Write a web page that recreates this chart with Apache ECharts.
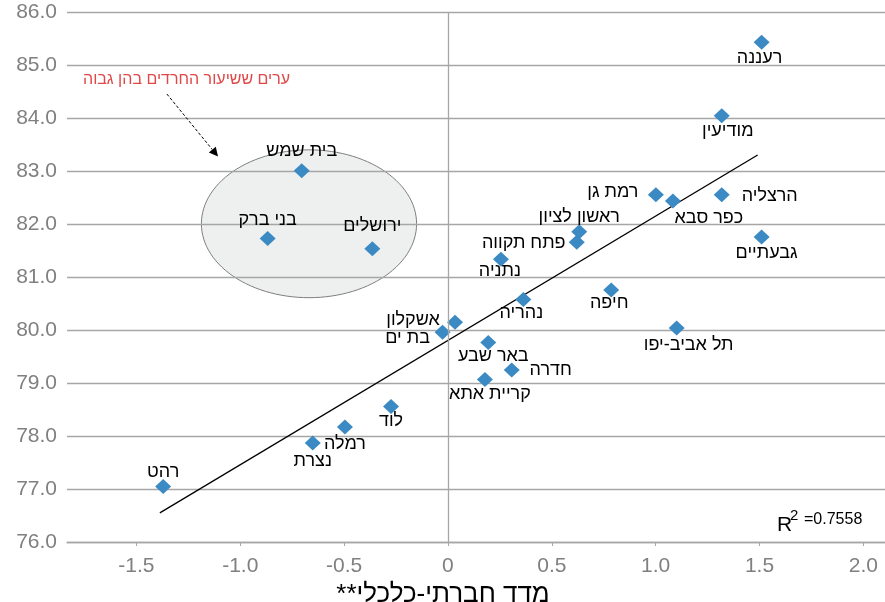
<!DOCTYPE html>
<html>
<head>
<meta charset="utf-8">
<script src="https://cdn.jsdelivr.net/npm/echarts@6/dist/echarts.min.js"></script>
<style>
html,body{margin:0;padding:0;background:#fff;}
#c{width:885px;height:602px;}
</style>
</head>
<body>
<div id="c"></div>
<script>
// ---- data ----
const cities = ["רעננה","מודיעין","בית שמש","רמת גן","כפר סבא","הרצליה","בני ברק","ראשון לציון","פתח תקווה","ירושלים","גבעתיים","נתניה","חיפה","נהריה","אשקלון","בת ים","תל אביב-יפו","באר שבע","חדרה","קריית אתא","לוד","רמלה","נצרת","רהט"];
const socioIndex = [1.510,1.318,-0.704,1.001,1.083,1.318,-0.868,0.632,0.620,-0.364,1.510,0.255,0.786,0.363,0.034,-0.026,1.101,0.194,0.307,0.178,-0.274,-0.496,-0.651,-1.371];
const values = [85.44,84.05,83.01,82.56,82.44,82.56,81.73,81.86,81.66,81.54,81.76,81.34,80.76,80.58,80.15,79.96,80.04,79.77,79.25,79.07,78.56,78.17,77.87,77.05];
const trendX = [-1.387, 1.491];
const trendY = [76.55, 83.31];
const xTicks = [-1.5,-1.0,-0.5,0,0.5,1.0,1.5,2.0];
const r2Text = "=0.7558";
const xTitle = "מדד חברתי-כלכלי**\u200F";
const noteText = "ערים ששיעור החרדים בהן גבוה";
// highlighted group ellipse (centre x, centre y, radius x, radius y) in data units
const groupEllipse = [-0.669, 82.01, 0.518, 1.396];
// annotation arrow (from x,y to x,y) in data units
const noteArrow = [-1.353, 84.46, -1.107, 83.28];

// ---- label placement (style) ----
const labelOffsets = {
 "רעננה":[-2,16],"מודיעין":[6,15],"בית שמש":[0,-20],"רמת גן":[-43,-3],"כפר סבא":[36,17],
 "הרצליה":[48,1],"בני ברק":[0,-19],"ראשון לציון":[0,-15],"פתח תקווה":[-53,1],"ירושלים":[0,-23],
 "גבעתיים":[5,16],"נתניה":[-1,12],"חיפה":[-2,13],"נהריה":[-2,14],"אשקלון":[-42,-2],
 "בת ים":[-35,6],"תל אביב-יפו":[12,17],"באר שבע":[5,14],"חדרה":[39,0],"קריית אתא":[5,15],
 "לוד":[0,15],"רמלה":[0,17],"נצרת":[0,18],"רהט":[0,-14]
};

const FONT = '"Liberation Sans", Arial, "DejaVu Sans", sans-serif';
const GRID = '#a6a6a6';

const scatterData = cities.map((n,i)=>({
  value:[socioIndex[i], values[i]],
  name:n,
  label:{offset: labelOffsets[n] || [0,0]}
}));

const chart = echarts.init(document.getElementById('c'), null, {renderer:'canvas'});
chart.setOption({
  animation:false,
  backgroundColor:'#fff',
  grid:{left:67,right:0,top:12.5,bottom:60,containLabel:false,outerBoundsMode:'none'},
  xAxis:{
    type:'value', min:-1.834, max:2.104,
    axisLine:{show:true,lineStyle:{color:GRID,width:1.3}},
    axisTick:{show:true,customValues:xTicks,length:4,lineStyle:{color:GRID}},
    axisLabel:{customValues:xTicks,margin:14,fontSize:21,color:'#808080',fontFamily:FONT,
      formatter:v=> Math.abs(v)<1e-9 ? '0' : v.toFixed(1)},
    splitLine:{show:false},
    name:xTitle, nameLocation:'middle', nameGap:31,
    nameTextStyle:{fontSize:26,color:'#000',fontFamily:FONT,padding:[0,66,0,0]}
  },
  yAxis:{
    type:'value', min:76, max:86, interval:1,
    axisLine:{show:false}, axisTick:{show:false},
    axisLabel:{margin:10,fontSize:21,color:'#808080',fontFamily:FONT,formatter:v=>v.toFixed(1)},
    splitLine:{show:true,lineStyle:{color:GRID,width:1.3}}
  },
  series:[
    {
      type:'custom', z:-1, silent:true,
      data:[groupEllipse],
      renderItem:function(params, api){
        const cx=api.value(0), cy=api.value(1), rx=api.value(2), ry=api.value(3);
        const pts=[];
        for(let k=0;k<120;k++){
          const t=k/120*Math.PI*2;
          pts.push(api.coord([cx+rx*Math.cos(t), cy+ry*Math.sin(t)]));
        }
        return {type:'polygon',shape:{points:pts},style:{fill:'#eef0f0',stroke:'#7f7f7f',lineWidth:1}};
      }
    },
    {
      type:'custom', silent:true,
      data:[noteArrow],
      renderItem:function(params, api){
        const p1=api.coord([api.value(0),api.value(1)]);
        const p2=api.coord([api.value(2),api.value(3)]);
        const dx=p2[0]-p1[0], dy=p2[1]-p1[1], L=Math.sqrt(dx*dx+dy*dy);
        const ux=dx/L, uy=dy/L, hl=9, hw=4.5;
        const b=[p2[0]-ux*hl, p2[1]-uy*hl];
        return {type:'group',children:[
          {type:'line',shape:{x1:p1[0],y1:p1[1],x2:b[0],y2:b[1]},style:{stroke:'#000',lineWidth:1,lineDash:[3,2]}},
          {type:'polygon',shape:{points:[p2,[b[0]-uy*hw,b[1]+ux*hw],[b[0]+uy*hw,b[1]-ux*hw]]},style:{fill:'#000'}}
        ]};
      }
    },
    {
      type:'line', silent:true, symbol:'none',
      data:trendX.map((x,i)=>[x,trendY[i]]),
      lineStyle:{color:'#000',width:1.3},
      markLine:{silent:true,symbol:'none',label:{show:false},
        lineStyle:{color:GRID,width:1.3,type:'solid'},
        data:[{xAxis:0}]}
    },
    {
      type:'scatter', symbol:'diamond', symbolSize:[16,15],
      itemStyle:{color:'#3b8ac3',opacity:1},
      data:scatterData,
      label:{show:true,position:'inside',align:'center',verticalAlign:'middle',
        formatter:p=>p.name,fontSize:18,color:'#000',fontFamily:FONT},
      z:3
    }
  ],
  graphic:[
    {type:'text',left:83,top:72,style:{text:noteText,font:'16px '+FONT,fill:'#e04848'}},
    {type:'text',left:777,top:515,style:{text:'R',font:'21px '+FONT,fill:'#000'}},
    {type:'text',left:790,top:508,style:{text:'2',font:'15px '+FONT,fill:'#000'}},
    {type:'text',left:804,top:512,style:{text:r2Text,font:'16px '+FONT,fill:'#000'}}
  ]
});
</script>
</body>
</html>
